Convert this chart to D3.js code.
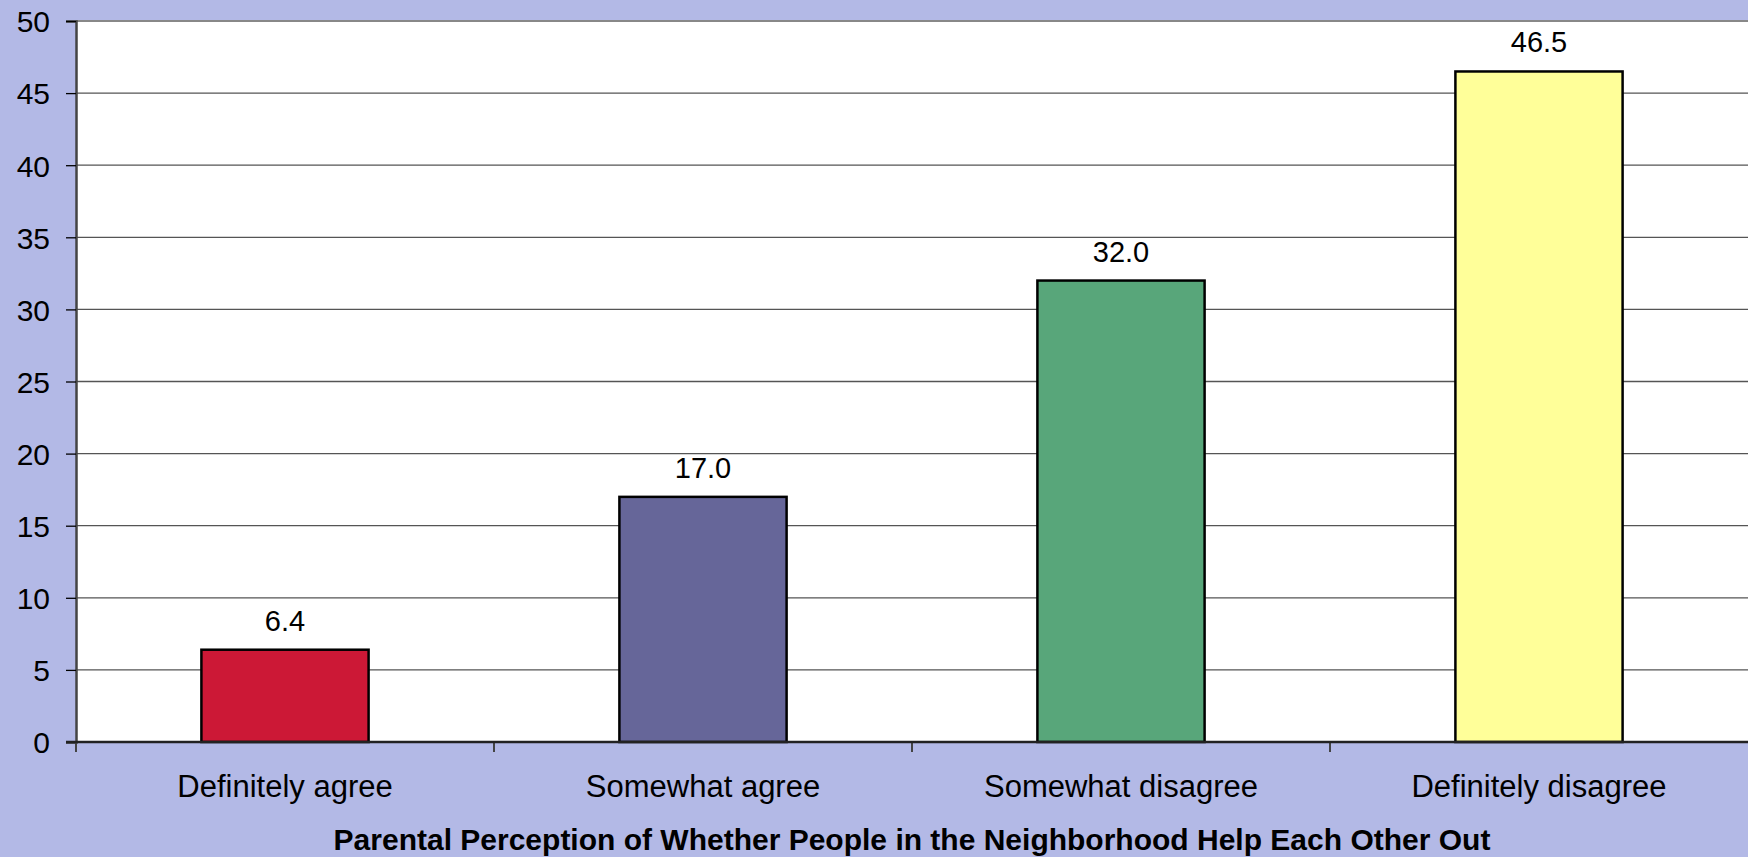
<!DOCTYPE html>
<html lang="en">
<head>
<meta charset="utf-8">
<title>Neighborhood help</title>
<script src="https://cdn.jsdelivr.net/npm/d3@7"></script>
<style>
  body { margin: 0; background: #b3b9e6; }
  svg { display: block; }
  .axis text { font-family: "Liberation Sans", Arial, sans-serif; font-size: 30px; fill: #000; }
  .xaxis text { font-size: 31px; }
</style>
</head>
<body>
<script>
  var categories = ["Definitely agree", "Somewhat agree", "Somewhat disagree", "Definitely disagree"];
  var values = [6.4, 17.0, 32.0, 46.5];
  var barColors = ["#cc1836", "#666699", "#58a67a", "#ffff99"];
  var yTicks = [0, 5, 10, 15, 20, 25, 30, 35, 40, 45, 50];
  var xTitle = "Parental Perception of Whether People in the Neighborhood Help Each Other Out";

  var w = 1748, h = 857;
  var plotLeft = 76, plotRight = 1748, plotTop = 21, plotBottom = 742;

  var svg = d3.select("body").append("svg")
    .attr("width", w)
    .attr("height", h);

  svg.append("rect")
    .attr("width", w).attr("height", h)
    .attr("fill", "#b3b9e6");

  var x = d3.scaleBand()
    .domain(categories)
    .range([plotLeft, plotRight])
    .paddingInner(0.6)
    .paddingOuter(0.3);

  var y = d3.scaleLinear()
    .domain([0, 50])
    .range([plotBottom, plotTop]);

  // plot area
  svg.append("rect")
    .attr("x", plotLeft).attr("y", plotTop)
    .attr("width", plotRight - plotLeft).attr("height", plotBottom - plotTop)
    .attr("fill", "#fff");

  // gridlines
  svg.append("g")
    .selectAll("line")
    .data(yTicks.filter(function(d) { return d > 0; }))
    .enter().append("line")
    .attr("x1", plotLeft).attr("x2", plotRight)
    .attr("y1", function(d) { return y(d); })
    .attr("y2", function(d) { return y(d); })
    .attr("stroke", function(d) { return d == 50 ? "#888" : "#555"; })
    .attr("stroke-width", function(d) { return d == 50 ? 2 : 1.3; });

  // y axis
  var yAxis = d3.axisLeft(y)
    .tickValues(yTicks)
    .tickSize(10)
    .tickPadding(16)
    .tickFormat(d3.format("d"));

  var gy = svg.append("g")
    .attr("class", "axis")
    .attr("transform", "translate(" + plotLeft + ",0)")
    .call(yAxis);
  gy.select(".domain").attr("stroke", "#444").attr("stroke-width", 2.5);
  gy.selectAll(".tick line").attr("stroke", "#000").attr("stroke-width", 1.3);
  gy.selectAll(".tick text").attr("dy", "0.36em");

  // bars
  svg.append("g")
    .selectAll("rect")
    .data(values)
    .enter().append("rect")
    .attr("x", function(d, i) { return x(categories[i]); })
    .attr("y", function(d) { return y(d); })
    .attr("width", x.bandwidth())
    .attr("height", function(d) { return y(0) - y(d); })
    .attr("fill", function(d, i) { return barColors[i]; })
    .attr("stroke", "#000")
    .attr("stroke-width", 2.5);

  // value labels
  svg.append("g")
    .selectAll("text")
    .data(values)
    .enter().append("text")
    .text(function(d) { return d3.format(".1f")(d); })
    .attr("x", function(d, i) { return x(categories[i]) + x.bandwidth() / 2; })
    .attr("y", function(d) { return y(d) - 19; })
    .attr("text-anchor", "middle")
    .attr("font-family", "Liberation Sans, Arial, sans-serif")
    .attr("font-size", "29px")
    .attr("fill", "#000");

  // x axis
  var xAxis = d3.axisBottom(x)
    .tickSize(0)
    .tickPadding(33);

  var gx = svg.append("g")
    .attr("class", "axis xaxis")
    .attr("transform", "translate(0," + plotBottom + ")")
    .call(xAxis);
  gx.select(".domain").remove();

  var bounds = d3.range(categories.length).map(function(i) { return plotLeft + i * x.step(); });
  gx.selectAll(".bound")
    .data(bounds)
    .enter().append("line")
    .attr("class", "bound")
    .attr("x1", function(d) { return d; }).attr("x2", function(d) { return d; })
    .attr("y1", 0).attr("y2", 10)
    .attr("stroke", "#444")
    .attr("stroke-width", 2);

  svg.append("line")
    .attr("x1", plotLeft - 10).attr("x2", plotRight)
    .attr("y1", plotBottom).attr("y2", plotBottom)
    .attr("stroke", "#222")
    .attr("stroke-width", 2.5);

  // x title
  svg.append("text")
    .text(xTitle)
    .attr("x", (plotLeft + plotRight) / 2)
    .attr("y", 850)
    .attr("text-anchor", "middle")
    .attr("font-family", "Liberation Sans, Arial, sans-serif")
    .attr("font-weight", "bold")
    .attr("font-size", "30px")
    .attr("fill", "#000");
</script>
</body>
</html>
